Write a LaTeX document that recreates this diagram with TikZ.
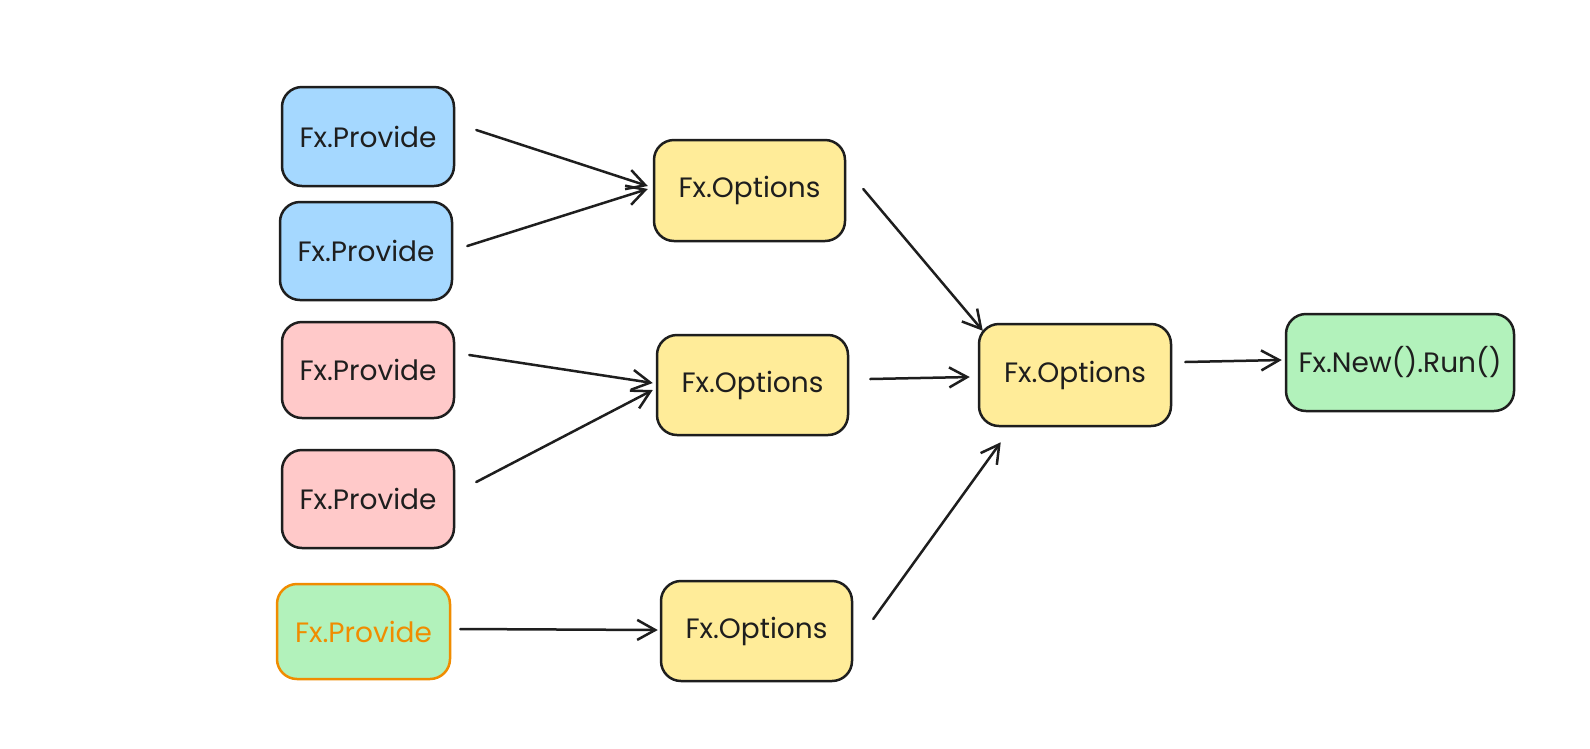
\documentclass[tikz,border=0pt]{standalone}
\usepackage{fontspec}
\setmainfont{Poppins}
\usetikzlibrary{arrows.meta}
\definecolor{ink}{HTML}{1E1E1E}
\definecolor{cblue}{HTML}{A5D8FF}
\definecolor{cpink}{HTML}{FFC9C9}
\definecolor{cyellow}{HTML}{FFEC99}
\definecolor{cgreen}{HTML}{B2F2BB}
\definecolor{corange}{HTML}{F08C00}
\begin{document}
\begin{tikzpicture}[x=1pt,y=-1pt,
  box/.style={draw=ink,line width=2.5pt,rounded corners=20pt,inner sep=0pt,
    font=\fontsize{28}{32}\selectfont,text=ink,align=center},
  prov/.style={box,minimum width=172pt,minimum height=97pt},
  opt/.style={box,fill=cyellow,minimum width=191pt,minimum height=100pt},
  arr/.style={draw=ink,line width=2.5pt,line cap=round,-{Straight Barb[length=18pt,width=20pt,line width=2.5pt]}}]
\useasboundingbox[fill=white] (0,0) rectangle (1590,748);
\node[prov,fill=cblue,minimum height=99pt] (b1) at (368,136.5) {Fx.Provide};
\node[prov,fill=cblue,minimum height=98pt] (b2) at (366,251) {Fx.Provide};
\node[prov,fill=cpink,minimum height=96pt] (p1) at (368,370) {Fx.Provide};
\node[prov,fill=cpink,minimum height=98pt] (p2) at (368,499) {Fx.Provide};
\node[prov,fill=cgreen,draw=corange,text=corange,minimum width=173pt,minimum height=95pt] (g) at (363.5,631.5) {Fx.Provide};
\node[opt,minimum height=101pt] (o1) at (749.5,190.5) {Fx.Options};
\node[opt] (o2) at (752.5,385) {Fx.Options};
\node[opt] (o3) at (756.5,631) {Fx.Options};
\node[opt,minimum width=192pt,minimum height=102pt] (o4) at (1075,375) {Fx.Options};
\node[box,fill=cgreen,minimum width=228pt,minimum height=97pt] (run) at (1400,362.5) {Fx.New().Run()};
\draw[arr] ([xshift=21pt,yshift=6.5pt]b1.east) -- ([xshift=-5pt,yshift=4.5pt]o1.west);
\draw[arr] ([xshift=14pt,yshift=5pt]b2.east) -- ([xshift=-5pt,yshift=1.5pt]o1.west);
\draw[arr] ([xshift=14pt,yshift=15pt]p1.east) -- ([xshift=-3pt,yshift=2pt]o2.west);
\draw[arr] ([xshift=21pt,yshift=17pt]p2.east) -- ([xshift=-3pt,yshift=-5pt]o2.west);
\draw[arr] ([xshift=9pt,yshift=2.5pt]g.east) -- ([xshift=-2pt,yshift=1pt]o3.west);
\draw[arr] ([xshift=17pt,yshift=1.5pt]o1.east) -- ([xshift=5pt,yshift=-8pt]o4.north west);
\draw[arr] ([xshift=21pt,yshift=6pt]o2.east) -- ([xshift=-8pt,yshift=-2pt]o4.west);
\draw[arr] ([xshift=20pt,yshift=12pt]o3.east) -- ([xshift=23pt,yshift=-15pt]o4.south west);
\draw[arr] ([xshift=13pt,yshift=13pt]o4.east) -- ([xshift=-3pt,yshift=2.5pt]run.west);
\end{tikzpicture}
\end{document}
